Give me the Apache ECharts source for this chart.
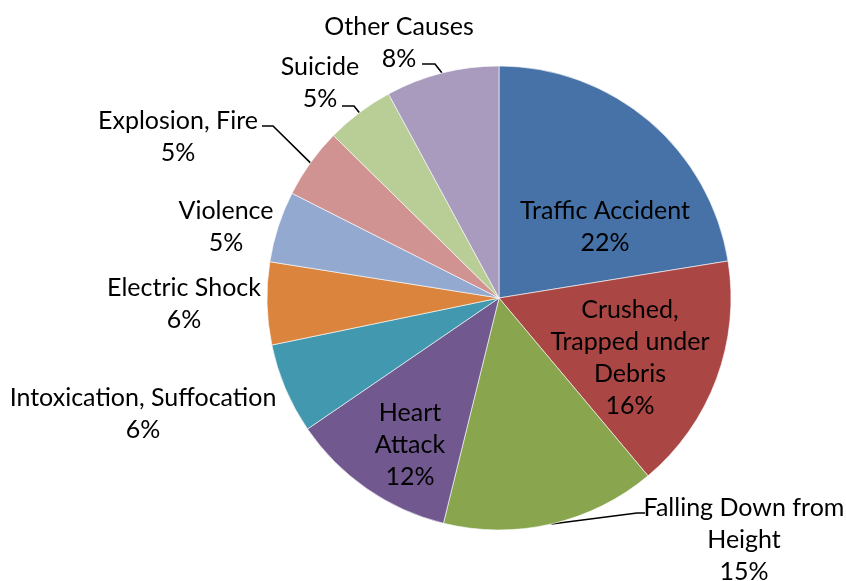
<!DOCTYPE html>
<html>
<head>
<meta charset="utf-8">
<script src="https://cdn.jsdelivr.net/npm/echarts@6/dist/echarts.min.js"></script>
<style>
  html, body { margin: 0; padding: 0; background: #fff; }
  #chart { width: 846px; height: 581px; }
</style>
</head>
<body>
<div id="chart"></div>
<script>
// categories and shares (%), clockwise from 12 o'clock
var categories = [
  "Traffic Accident",
  "Crushed,\nTrapped under\nDebris",
  "Falling Down from\nHeight",
  "Heart\nAttack",
  "Intoxication, Suffocation",
  "Electric Shock",
  "Violence",
  "Explosion, Fire",
  "Suicide",
  "Other Causes"
];
var shares = [22.45, 16.45, 14.95, 11.6, 6.3, 5.75, 4.95, 4.9, 4.75, 7.9];
var colors = ["#4672A8", "#AA4644", "#89A54E", "#71588F", "#4198AF",
              "#DB843D", "#93A9CF", "#D19392", "#B9CD96", "#A99BBD"];

// label layout (centre of each text block) and leader line bends
var labelPos = [
  [605, 227], [630, 358], [744, 540], [410, 445], [143, 414],
  [184, 304], [226, 227], [178, 137], [320, 83], [399, 43]
];
var leaders = {
  2: [[637, 513], [645, 513]],
  7: [[273, 126], [262, 126]],
  8: [[354, 106], [342, 106]],
  9: [[435, 64], [422, 64]]
};

var seriesData = categories.map(function (name, i) {
  return {
    name: name,
    value: shares[i],
    itemStyle: { color: colors[i] },
    labelLine: { show: !!leaders[i] }
  };
});

var chartObj = echarts.init(document.getElementById("chart"));
chartObj.setOption({
  animation: false,
  series: [
    {
      type: "pie",
      center: [499, 298],
      radius: 232,
      startAngle: 90,
      clockwise: true,
      avoidLabelOverlap: false,
      itemStyle: { borderColor: "#fff", borderWidth: 0.6 },
      label: {
        show: true,
        position: "outside",
        fontFamily: "Lato",
        fontSize: 25,
        lineHeight: 32,
        color: "#000",
        formatter: function (p) {
          return p.name + "\n" + Math.round(p.percent) + "%";
        }
      },
      labelLine: {
        show: true,
        lineStyle: { color: "#000", width: 1.6, opacity: 1 }
      },
      labelLayout: function (p) {
        var pos = labelPos[p.dataIndex];
        var out = { x: pos[0], y: pos[1], align: "center", verticalAlign: "middle" };
        var bend = leaders[p.dataIndex];
        if (bend && p.labelLinePoints) {
          out.labelLinePoints = [p.labelLinePoints[0], bend[0], bend[1]];
        }
        return out;
      },
      data: seriesData
    }
  ]
});
window.addEventListener("resize", function () {
  chartObj.resize();
});
</script>
</body>
</html>
